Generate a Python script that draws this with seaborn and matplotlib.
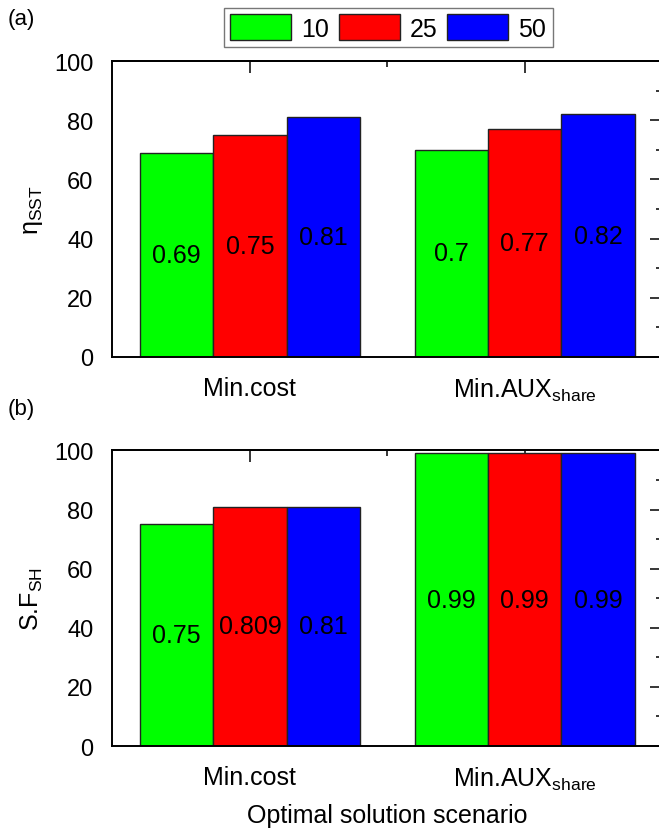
import matplotlib.pyplot as plt
import pandas as pd
import seaborn as sns
from matplotlib.patches import Patch
from matplotlib.ticker import FixedLocator, MultipleLocator

# 데이터
scenarios = ["Min.cost", "Min.AUX$_{\\mathrm{share}}$"]
sizes = ["10", "25", "50"]
colors = ["#00ff00", "#ff0000", "#0000ff"]

eta_sst_10 = [69, 70]
eta_sst_25 = [75, 77]
eta_sst_50 = [81, 82]
eta_text_10 = ["0.69", "0.7"]
eta_text_25 = ["0.75", "0.77"]
eta_text_50 = ["0.81", "0.82"]

sf_sh_10 = [75, 99]
sf_sh_25 = [80.9, 99]
sf_sh_50 = [81, 99]
sf_text_10 = ["0.75", "0.99"]
sf_text_25 = ["0.809", "0.99"]
sf_text_50 = ["0.81", "0.99"]

sns.set_style("white")
plt.rcParams["font.family"] = ["Liberation Sans", "DejaVu Sans"]
plt.rcParams["text.color"] = "black"
plt.rcParams["axes.labelcolor"] = "black"
plt.rcParams["xtick.color"] = "black"
plt.rcParams["ytick.color"] = "black"
plt.rcParams["mathtext.fontset"] = "custom"
plt.rcParams["mathtext.rm"] = "Liberation Sans"
plt.rcParams["mathtext.it"] = "Liberation Sans:italic"
plt.rcParams["mathtext.bf"] = "Liberation Sans:bold"


def long_frame(v10, v25, v50):
    rows = []
    for size, values in zip(sizes, [v10, v25, v50]):
        for scenario, value in zip(scenarios, values):
            rows.append({"scenario": scenario, "size": size, "value": value})
    return pd.DataFrame(rows)


def draw_panel(ax, df, texts, ylabel):
    sns.barplot(
        data=df, x="scenario", y="value", hue="size",
        order=scenarios, hue_order=sizes, palette=colors,
        saturation=1, width=0.8, edgecolor="#222222", linewidth=1,
        legend=False, ax=ax,
    )
    for container, labels in zip(ax.containers, texts):
        ax.bar_label(container, labels=labels, label_type="center",
                     fontsize=18, color="black")

    ax.set_xlim(-0.5, 1.5)
    ax.set_ylim(0, 100)
    ax.yaxis.set_major_locator(MultipleLocator(20))
    ax.yaxis.set_minor_locator(MultipleLocator(10))
    ax.xaxis.set_minor_locator(FixedLocator([-0.5, 0.5, 1.5]))
    ax.set_ylabel(ylabel, fontsize=18, labelpad=7, color="black")
    ax.set_xlabel("")

    for spine in ax.spines.values():
        spine.set_visible(True)
        spine.set_linewidth(1.4)
        spine.set_color("black")

    ax.tick_params(which="both", colors="black", width=1.1)
    ax.tick_params(axis="x", which="major", labelsize=18, length=8.6, pad=5,
                   direction="out")
    ax.tick_params(axis="x", which="minor", length=4.3, direction="out")
    ax.tick_params(axis="y", which="major", labelsize=17, length=8.6, pad=5,
                   direction="out")
    ax.tick_params(axis="y", which="minor", length=4.3, direction="out")

    # 위쪽/오른쪽 눈금은 안쪽 방향
    sec_x = ax.secondary_xaxis("top")
    sec_x.set_xticks([0, 1])
    sec_x.xaxis.set_minor_locator(FixedLocator([0.5]))
    sec_x.tick_params(which="major", direction="in", length=8.6, width=1.1, labeltop=False)
    sec_x.tick_params(which="minor", direction="in", length=4.3, width=1.1)
    sec_x.spines["top"].set_linewidth(1.4)
    sec_y = ax.secondary_yaxis("right")
    sec_y.yaxis.set_major_locator(MultipleLocator(20))
    sec_y.yaxis.set_minor_locator(MultipleLocator(10))
    sec_y.tick_params(which="major", direction="in", length=8.6, width=1.1, labelright=False)
    sec_y.tick_params(which="minor", direction="in", length=4.3, width=1.1)
    ax.tick_params(which="both", top=False, right=False)


fig = plt.figure(figsize=(6.59, 8.37), dpi=100)
ax_a = fig.add_axes([0.1707, 0.5723, 0.834, 0.3536])
ax_b = fig.add_axes([0.1707, 0.1075, 0.834, 0.3531])

draw_panel(ax_a, long_frame(eta_sst_10, eta_sst_25, eta_sst_50),
           [eta_text_10, eta_text_25, eta_text_50], "η$_{\\mathrm{SST}}$")
draw_panel(ax_b, long_frame(sf_sh_10, sf_sh_25, sf_sh_50),
           [sf_text_10, sf_text_25, sf_text_50], "S.F$_{\\mathrm{SH}}$")
ax_b.set_xlabel("Optimal solution scenario", fontsize=18, labelpad=8, color="black")

fig.text(0.012, 1 - 19 / 837, "(a)", fontsize=16, va="center")
fig.text(0.012, 1 - 410 / 837, "(b)", fontsize=16, va="center")

handles = [Patch(facecolor=c, edgecolor="#222222", linewidth=1) for c in colors]
leg = fig.legend(
    handles, sizes, loc="center", bbox_to_anchor=(388 / 659, 1 - 28.5 / 837),
    ncol=3, fontsize=18, frameon=True, fancybox=False, edgecolor="#555555",
    handlelength=2.44, handleheight=1.2, handletextpad=0.4, columnspacing=0.4,
    borderpad=0.25, borderaxespad=0,
)
leg.get_frame().set_linewidth(1.0)

fig.savefig("out.png", dpi=100)
